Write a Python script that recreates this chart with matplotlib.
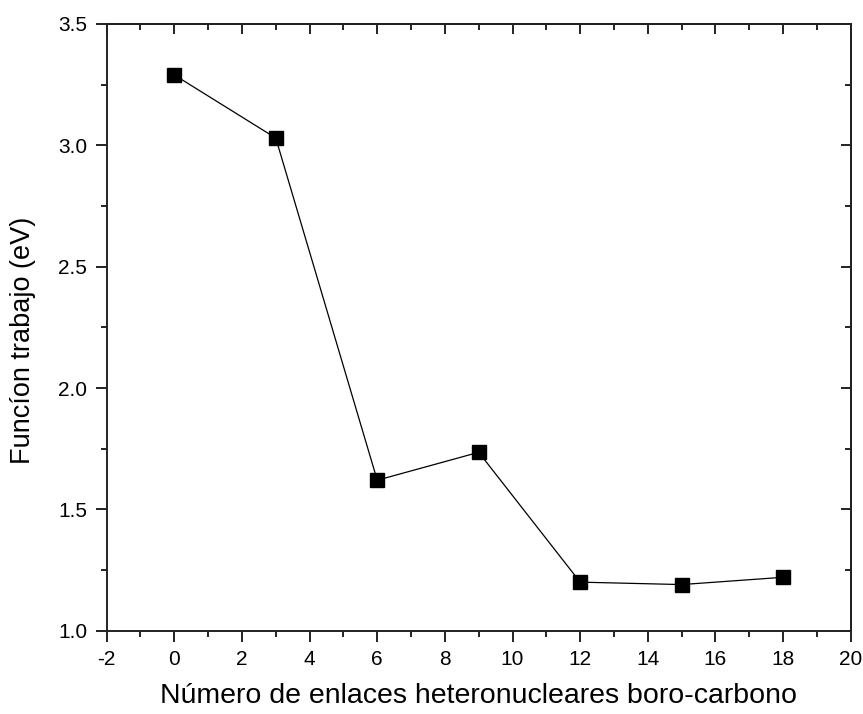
import matplotlib
matplotlib.use("Agg")
import matplotlib.pyplot as plt
from matplotlib.ticker import MultipleLocator, FormatStrFormatter

plt.rcParams['font.family'] = ['Liberation Sans', 'DejaVu Sans']

x_vals = [0, 3, 6, 9, 12, 15, 18]
y_vals = [3.29, 3.03, 1.62, 1.735, 1.20, 1.19, 1.22]
x_label = "Número de enlaces heteronucleares boro-carbono"
y_label = "Funcíon trabajo (eV)"

fig = plt.figure(figsize=(8.63, 7.14), dpi=100)
ax = fig.add_axes([0.1236, 0.1167, 0.8622, 0.8497])
ax.plot(x_vals, y_vals, color='black', lw=0.9, marker='s', markersize=10,
        markerfacecolor='black', markeredgecolor='black')

ax.set_xlim(-2, 20)
ax.set_ylim(1.0, 3.5)
ax.xaxis.set_major_locator(MultipleLocator(2))
ax.xaxis.set_minor_locator(MultipleLocator(1))
ax.yaxis.set_major_locator(MultipleLocator(0.5))
ax.yaxis.set_minor_locator(MultipleLocator(0.25))
ax.yaxis.set_major_formatter(FormatStrFormatter('%.1f'))
ax.xaxis.set_major_formatter(FormatStrFormatter('%d'))

for s in ax.spines.values():
    s.set_linewidth(1.4)
    s.set_color('#222222')

ax.tick_params(which='major', direction='out', length=8, width=1.4, labelsize=15, pad=6,
               top=False, right=False, color='#222222')
ax.tick_params(which='minor', direction='out', length=4.5, width=1.4, top=False, right=False,
               color='#222222')

axt = ax.secondary_xaxis('top')
axt.xaxis.set_major_locator(MultipleLocator(2))
axt.xaxis.set_minor_locator(MultipleLocator(1))
axt.tick_params(which='major', direction='in', length=7, width=1.4, labeltop=False, color='#222222')
axt.tick_params(which='minor', direction='in', length=4, width=1.4, color='#222222')
axt.spines['top'].set_linewidth(1.4)
axr = ax.secondary_yaxis('right')
axr.yaxis.set_major_locator(MultipleLocator(0.5))
axr.yaxis.set_minor_locator(MultipleLocator(0.25))
axr.tick_params(which='major', direction='in', length=7, width=1.4, labelright=False, color='#222222')
axr.tick_params(which='minor', direction='in', length=4, width=1.4, color='#222222')
axr.spines['right'].set_linewidth(1.4)

ax.set_xlabel(x_label, fontsize=20.5, labelpad=10)
ax.set_ylabel(y_label, fontsize=19.5)
ax.yaxis.set_label_coords(-0.095, 0.479)

fig.savefig("out.png", dpi=100)
